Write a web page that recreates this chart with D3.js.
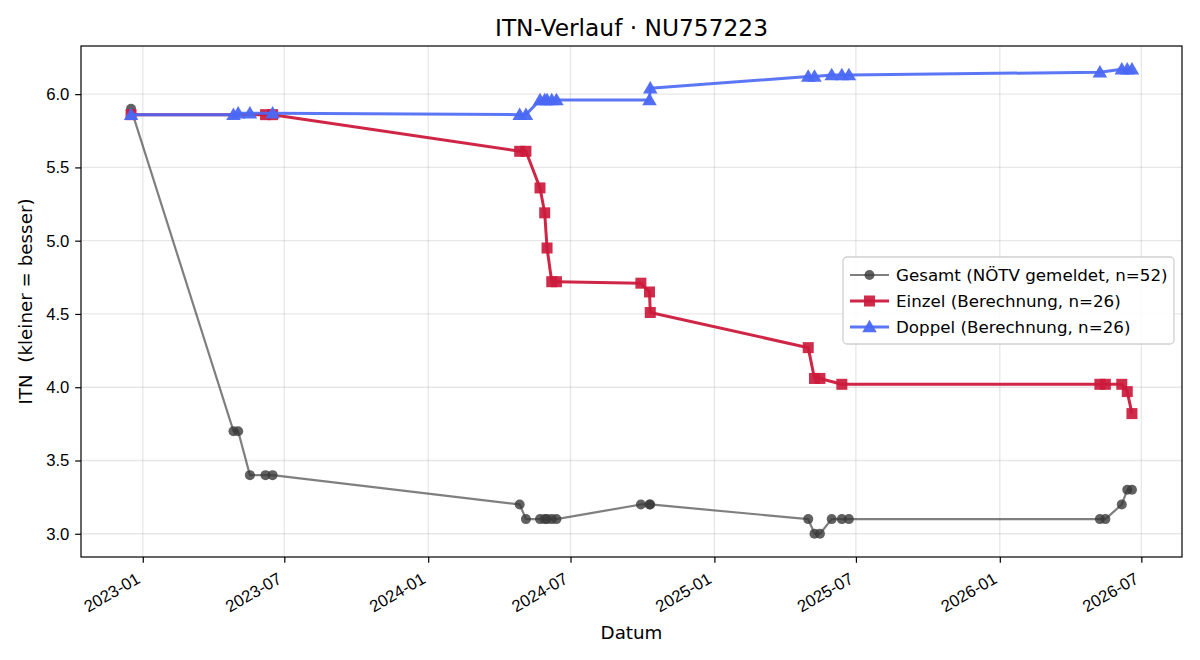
<!DOCTYPE html>
<html>
<head>
<meta charset="utf-8">
<title>ITN-Verlauf</title>
<script src="https://d3js.org/d3.v7.min.js"></script>
<style>
  body { margin: 0; background: #fff; }
  svg { font-family: "DejaVu Sans", sans-serif; }
</style>
</head>
<body>
<svg id="viz" width="1200" height="660"></svg>
<script>
// Gesamt (NÖTV gemeldet)
var gesamtDates = ["2022-12-17","2023-04-27","2023-05-03","2023-05-18","2023-06-07","2023-06-16",
  "2024-04-27","2024-05-05","2024-05-23","2024-05-29","2024-06-01","2024-06-07","2024-06-13",
  "2024-09-29","2024-10-10","2024-10-11",
  "2025-05-01","2025-05-09","2025-05-16","2025-05-31","2025-06-13","2025-06-22",
  "2026-05-09","2026-05-16","2026-06-06","2026-06-13","2026-06-19"];
var gesamtValues = [5.90,3.70,3.70,3.40,3.40,3.40,
  3.20,3.10,3.10,3.10,3.10,3.10,3.10,
  3.20,3.20,3.20,
  3.10,3.00,3.00,3.10,3.10,3.10,
  3.10,3.10,3.20,3.30,3.30];

// Einzel (Berechnung)
var einzelDates = ["2022-12-17","2023-06-07","2023-06-16",
  "2024-04-27","2024-05-05","2024-05-23","2024-05-29","2024-06-01","2024-06-07","2024-06-13",
  "2024-09-29","2024-10-10","2024-10-11",
  "2025-05-01","2025-05-09","2025-05-16","2025-06-13",
  "2026-05-09","2026-05-16","2026-06-06","2026-06-13","2026-06-19"];
var einzelValues = [5.86,5.86,5.86,
  5.61,5.61,5.36,5.19,4.95,4.72,4.72,
  4.71,4.65,4.51,
  4.27,4.06,4.06,4.02,
  4.02,4.02,4.02,3.97,3.82];

// Doppel (Berechnung)
var doppelDates = ["2022-12-17","2023-04-27","2023-05-03","2023-05-18","2023-06-16",
  "2024-04-27","2024-05-05","2024-05-23","2024-05-29","2024-06-01","2024-06-07","2024-06-13",
  "2024-10-10","2024-10-11",
  "2025-05-01","2025-05-09","2025-05-31","2025-06-13","2025-06-22",
  "2026-05-09","2026-06-06","2026-06-13","2026-06-19"];
var doppelValues = [5.86,5.86,5.87,5.87,5.87,
  5.86,5.86,5.96,5.96,5.96,5.96,5.96,
  5.96,6.04,
  6.12,6.12,6.13,6.13,6.13,
  6.15,6.17,6.17,6.17];

var seriesNames = ["Gesamt (NÖTV gemeldet, n=52)", "Einzel (Berechnung, n=26)", "Doppel (Berechnung, n=26)"];
var yTicks = [3.0, 3.5, 4.0, 4.5, 5.0, 5.5, 6.0];

var parse = d3.timeParse("%Y-%m-%d");
function zipSeries(dates, values) {
  return dates.map(function(d, i) { return { date: parse(d), value: values[i] }; });
}
var series = [
  { name: seriesNames[0], data: zipSeries(gesamtDates, gesamtValues), color: "#3a3a3a", lineOpacity: 0.65, markerOpacity: 0.8, width: 2.2, marker: "circle", size: 5 },
  { name: seriesNames[1], data: zipSeries(einzelDates, einzelValues), color: "#cc1a3c", lineOpacity: 0.95, markerOpacity: 0.92, width: 3, marker: "square", size: 11 },
  { name: seriesNames[2], data: zipSeries(doppelDates, doppelValues), color: "#4a68f4", lineOpacity: 0.9, markerOpacity: 0.95, width: 3, marker: "triangle", size: 12.5 }
];

var margin = { top: 46, right: 18, bottom: 103, left: 81 };
var width = 1200 - margin.left - margin.right;
var height = 660 - margin.top - margin.bottom;

var svg = d3.select("#viz");
var g = svg.append("g").attr("transform", "translate(" + margin.left + "," + margin.top + ")");

// matplotlib-style 5% margins
var allPts = series[0].data.concat(series[1].data, series[2].data);
var xExt = d3.extent(allPts, function(d) { return d.date; });
var xPad = (xExt[1] - xExt[0]) * 0.05;
var yExt = d3.extent(allPts, function(d) { return d.value; });
var yPad = (yExt[1] - yExt[0]) * 0.05;

var x = d3.scaleTime()
  .domain([new Date(+xExt[0] - xPad), new Date(+xExt[1] + xPad)])
  .range([0, width]);
var y = d3.scaleLinear()
  .domain([yExt[0] - yPad, yExt[1] + yPad])
  .range([height, 0]);

var xTicks = x.ticks(d3.timeMonth.every(6));

// grid
g.append("g").selectAll("line").data(xTicks).enter().append("line")
  .attr("x1", function(d) { return x(d); }).attr("x2", function(d) { return x(d); })
  .attr("y1", 0).attr("y2", height)
  .attr("stroke", "#b0b0b0").attr("stroke-opacity", 0.3).attr("stroke-width", 1.3);
g.append("g").selectAll("line").data(yTicks).enter().append("line")
  .attr("y1", function(d) { return y(d); }).attr("y2", function(d) { return y(d); })
  .attr("x1", 0).attr("x2", width)
  .attr("stroke", "#b0b0b0").attr("stroke-opacity", 0.3).attr("stroke-width", 1.3);

// axes
var xAxis = g.append("g").attr("transform", "translate(0," + height + ")")
  .call(d3.axisBottom(x).tickValues(xTicks).tickFormat(d3.timeFormat("%Y-%m")).tickSizeOuter(0).tickSize(5.8));
xAxis.selectAll("text")
  .attr("font-size", 16.7).style("font-size", "16.7px").attr("fill", "#000")
  .style("text-anchor", "end")
  .attr("x", 0).attr("y", 0).attr("dy", 0)
  .attr("transform", "translate(-2,25) rotate(-30)");
var yAxis = g.append("g")
  .call(d3.axisLeft(y).tickValues(yTicks).tickFormat(d3.format(".1f")).tickSizeOuter(0).tickSize(5.8));
yAxis.selectAll("text").attr("font-size", 16.7).style("font-size", "16.7px").attr("fill", "#000").attr("x", -11.6);
g.selectAll(".domain").remove();
g.selectAll(".tick line").attr("stroke", "#000").attr("stroke-width", 1.2);

// frame
g.append("rect").attr("width", width).attr("height", height)
  .attr("fill", "none").attr("stroke", "#000").attr("stroke-width", 1.2);

function drawMarker(sel, s, cx, cy) {
  if (s.marker === "circle") {
    sel.append("circle").attr("cx", cx).attr("cy", cy).attr("r", s.size);
  } else if (s.marker === "square") {
    sel.append("rect").attr("x", cx - s.size / 2).attr("y", cy - s.size / 2)
      .attr("width", s.size).attr("height", s.size);
  } else {
    var h = s.size;
    sel.append("path").attr("d", "M" + cx + "," + (cy - h * 0.58) + "L" + (cx + h * 0.58) + "," + (cy + h * 0.42) +
      "L" + (cx - h * 0.58) + "," + (cy + h * 0.42) + "Z");
  }
}

var line = d3.line().x(function(d) { return x(d.date); }).y(function(d) { return y(d.value); });

series.forEach(function(s) {
  var sg = g.append("g");
  sg.append("path").datum(s.data)
    .attr("d", line).attr("fill", "none")
    .attr("stroke", s.color).attr("stroke-opacity", s.lineOpacity)
    .attr("stroke-width", s.width).attr("stroke-linejoin", "round");
  var mg = sg.append("g").attr("fill", s.color).attr("fill-opacity", s.markerOpacity);
  s.data.forEach(function(d) { drawMarker(mg, s, x(d.date), y(d.value)); });
});

// title and labels
svg.append("text").attr("x", margin.left + width / 2).attr("y", 36)
  .attr("text-anchor", "middle").style("font-size", "23.3px").text("ITN-Verlauf · NU757223");
svg.append("text").attr("x", margin.left + width / 2).attr("y", 639)
  .attr("text-anchor", "middle").style("font-size", "18.3px").text("Datum");
svg.append("text").attr("transform", "translate(32," + (margin.top + height / 2) + ") rotate(-90)")
  .attr("text-anchor", "middle").style("font-size", "18.3px").style("white-space", "pre")
  .text("ITN  (kleiner = besser)");

// legend
var lg = svg.append("g").attr("transform", "translate(843,257)");
lg.append("rect").attr("width", 331).attr("height", 87).attr("rx", 4)
  .attr("fill", "#fff").attr("fill-opacity", 0.85).attr("stroke", "#d0d0d0").attr("stroke-width", 1.3);
series.forEach(function(s, i) {
  var ry = 18 + i * 26;
  var row = lg.append("g");
  row.append("line").attr("x1", 7).attr("x2", 46).attr("y1", ry).attr("y2", ry)
    .attr("stroke", s.color).attr("stroke-opacity", s.lineOpacity).attr("stroke-width", s.width);
  var mg = row.append("g").attr("fill", s.color).attr("fill-opacity", s.markerOpacity);
  drawMarker(mg, s, 26.5, ry);
  row.append("text").attr("x", 53).attr("y", ry + 6).style("font-size", "16.7px").text(s.name);
});
</script>
</body>
</html>
